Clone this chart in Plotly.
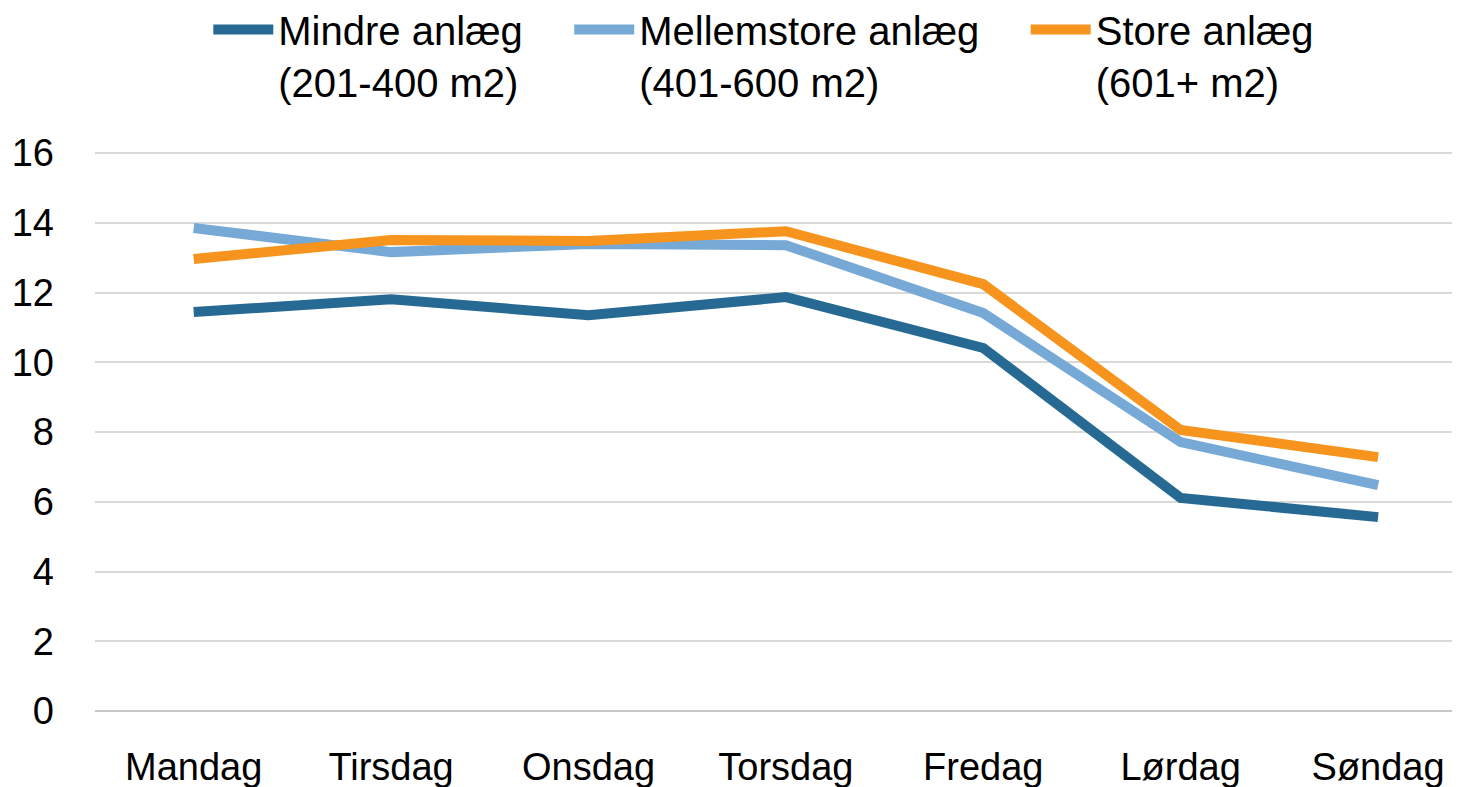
import plotly.graph_objects as go

days = ["Mandag", "Tirsdag", "Onsdag", "Torsdag", "Fredag", "Lørdag", "Søndag"]
mindre = [11.44, 11.81, 11.35, 11.87, 10.41, 6.11, 5.56]
mellem = [13.85, 13.16, 13.39, 13.36, 11.41, 7.71, 6.48]
store = [12.96, 13.51, 13.48, 13.76, 12.24, 8.06, 7.28]
yticks = [0, 2, 4, 6, 8, 10, 12, 14, 16]

PAD = "\u00a0" * 3 + "\u2009"
series = [
    ("Mindre anlæg" + PAD + "<br>(201-400 m2)", mindre, "#266A93"),
    ("Mellemstore anlæg" + PAD + "<br>(401-600 m2)", mellem, "#77A9D7"),
    ("Store anlæg<br>(601+ m2)", store, "#F7941D"),
]

FONT = "Liberation Sans, Arial, sans-serif"

fig = go.Figure()
for name, vals, col in series:
    fig.add_trace(go.Scatter(x=days, y=vals, name=name, mode="lines",
                             line=dict(color=col, width=10)))

fig.update_layout(
    width=1460, height=787,
    margin=dict(l=87, r=8, t=143, b=84, autoexpand=False),
    paper_bgcolor="white", plot_bgcolor="white",
    font=dict(family=FONT, size=38, color="black"),
    showlegend=True,
    legend=dict(orientation="h", x=0.083, xanchor="left", y=1.275, yanchor="top",
                yref="paper", valign="top", font=dict(size=40),
                itemwidth=60, tracegroupgap=0),
    xaxis=dict(range=[-0.5, 6.415], showgrid=False, showline=False, zeroline=False,
               automargin=False, ticks="", ticklabelstandoff=30, tickfont=dict(size=38)),
    yaxis=dict(range=[0, 16.06], tickvals=yticks, showgrid=True, gridcolor="#D9D9D9",
               gridwidth=2, zeroline=True, zerolinecolor="#C8C8C8", zerolinewidth=2,
               automargin=False, showline=False, ticks="", ticklabelstandoff=40,
               tickfont=dict(size=38)),
)

fig.write_html("out.html")
